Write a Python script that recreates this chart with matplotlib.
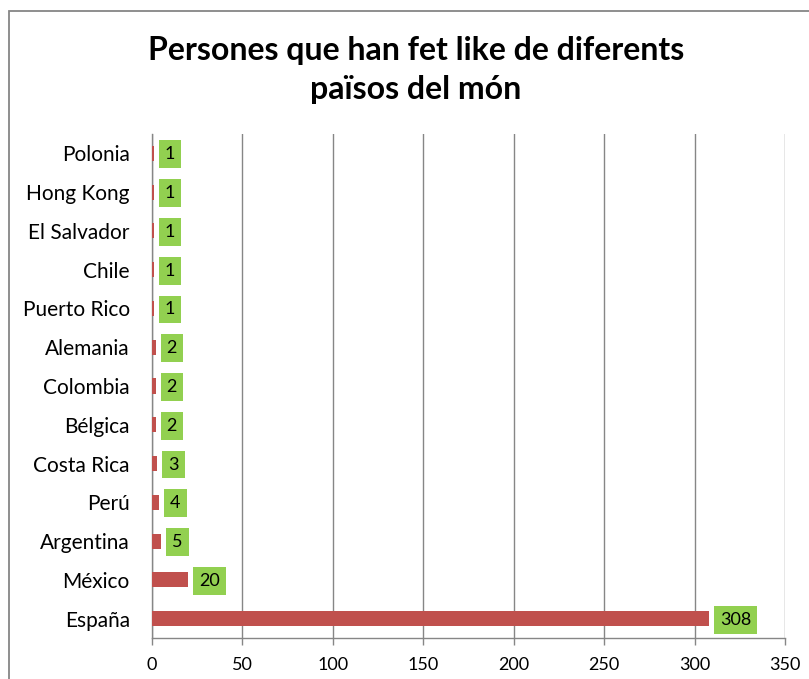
import matplotlib
matplotlib.use("Agg")
import matplotlib.pyplot as plt
from matplotlib.patches import Rectangle

plt.rcParams["font.family"] = ["Lato", "DejaVu Sans"]

# dades (de baix a dalt, com a l'original)
paisos = ["España", "México", "Argentina", "Perú", "Costa Rica", "Bélgica",
          "Colombia", "Alemania", "Puerto Rico", "Chile", "El Salvador",
          "Hong Kong", "Polonia"]
persones = [308, 20, 5, 4, 3, 2, 2, 2, 1, 1, 1, 1, 1]
x_ticks = [0, 50, 100, 150, 200, 250, 300, 350]

BAR = "#C0504D"
LABEL_BG = "#92D050"
GRID = "#868686"

fig = plt.figure(figsize=(8.09, 6.79), dpi=100)
ax = fig.add_axes([152 / 809, 1 - 638 / 679, (785 - 152) / 809, (638 - 134) / 679])

y = list(range(len(paisos)))
ax.barh(y, persones, height=0.39, color=BAR, zorder=3)

# etiquetes de valor amb fons verd
for yi, v in zip(y, persones):
    ax.annotate(f"{v}", xy=(v, yi), xytext=(11, -1), textcoords="offset pixels",
                ha="left", va="center", fontsize=13, color="black", zorder=4,
                bbox=dict(boxstyle="square,pad=0.33", fc=LABEL_BG, ec="none"))

ax.set_xlim(0, 350)
ax.set_ylim(-0.5, len(paisos) - 0.5)
ax.set_xticks(x_ticks)
ax.set_yticks(y)
ax.set_yticklabels(paisos)
ax.tick_params(axis="y", length=0, pad=16, labelsize=15)
ax.tick_params(axis="x", length=5, width=1, color=GRID, pad=9, labelsize=13)
ax.grid(axis="x", color=GRID, linewidth=1, zorder=0)
for side in ["top", "right"]:
    ax.spines[side].set_visible(False)
for side in ["left", "bottom"]:
    ax.spines[side].set_color(GRID)
    ax.spines[side].set_linewidth(1)

fig.text(416 / 809, 1 - 70 / 679, "Persones que han fet like de diferents\npaïsos del món",
         ha="center", va="center", fontsize=23, fontweight="bold", linespacing=1.4)

# marc del gràfic
fig.patches.append(Rectangle((9 / 809, -0.05), 1.1, 1 - 11 / 679 + 0.05,
                             transform=fig.transFigure, fill=False,
                             edgecolor=GRID, linewidth=1.3))

fig.savefig("out.png", dpi=100)
